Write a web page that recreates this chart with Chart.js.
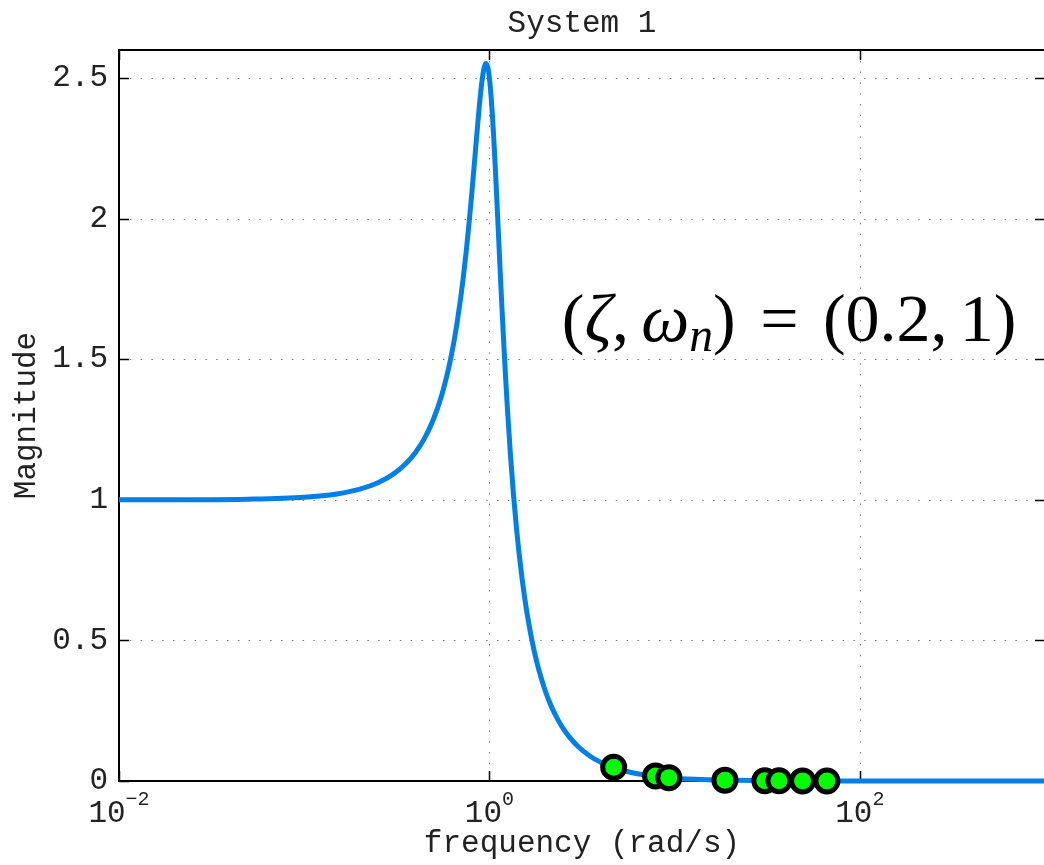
<!DOCTYPE html>
<html>
<head>
<meta charset="utf-8">
<title>System 1</title>
<script src="https://cdn.jsdelivr.net/npm/chart.js@4/dist/chart.umd.min.js"></script>
<style>
    html, body { margin: 0; padding: 0; background: #fff; overflow: hidden; }
    #wrap { width: 1044px; height: 865px; overflow: hidden; }
</style>
</head>
<body>
<div id="wrap"><canvas id="bodeChart" width="1048" height="865"></canvas></div>
<script>
// Frequency response samples (rad/s -> magnitude).
const frequency = [0.01, 0.02, 0.05, 0.1, 0.15, 0.2, 0.25, 0.3, 0.35, 0.4, 0.45, 0.5,
    0.55, 0.6, 0.62, 0.65, 0.67, 0.7, 0.72, 0.75, 0.78, 0.8, 0.82, 0.85, 0.86, 0.88,
    0.9, 0.92, 0.93, 0.95, 0.96, 0.97, 0.98, 0.99, 1.0, 1.01, 1.02, 1.03, 1.04, 1.06,
    1.08, 1.1, 1.12, 1.15, 1.17, 1.2, 1.22, 1.25, 1.3, 1.35, 1.4, 1.45, 1.5, 1.55,
    1.6, 1.7, 1.8, 1.9, 2.0, 2.1, 2.2, 2.35, 2.5, 2.7, 3, 3.5, 4, 4.5, 5, 6, 7, 8,
    10, 14, 20, 50, 100, 1000];
const magnitude = [1.0001, 1.0004, 1.0023, 1.0093, 1.0211, 1.0381, 1.0607, 1.0895, 1.1254, 1.1695, 1.2231, 1.2883,
    1.3673, 1.4630, 1.5068, 1.5789, 1.6318, 1.7188, 1.7821, 1.8851, 1.9972, 2.0761, 2.1572, 2.2786, 2.3178, 2.3918,
    2.4566, 2.5077, 2.5267, 2.5490, 2.5516, 2.5479, 2.5381, 2.5221, 2.5, 2.4722, 2.4390, 2.4011, 2.3589, 2.2642,
    2.1601, 2.0511, 1.9410, 1.7800, 1.6781, 1.5357, 1.4484, 1.3287, 1.1574, 1.0163, 0.8998, 0.8027, 0.7212, 0.6521,
    0.5931, 0.4979, 0.4250, 0.3679, 0.3221, 0.2847, 0.2538, 0.2165, 0.1871, 0.1567, 0.1236, 0.0882, 0.0663, 0.0517, 0.0415, 0.0285, 0.0208, 0.0159,
    0.0101, 0.0051, 0.0025, 0.0004, 0.0001, 0.0000];

// Green sample markers.
const markerFreq = [4.69, 7.89, 9.31, 18.7, 30.7, 36.6, 49.1, 66.4];
const markerMag = [0.049, 0.018, 0.012, 0.003, 0.001, 0.0008, 0.0004, 0.0002];

// Axis ticks.
const xTicks = [0.01, 1, 100];
const xTickExp = ['\u22122', '0', '2'];
const yTicks = [0, 0.5, 1, 1.5, 2, 2.5];

const mono = '"Liberation Mono", "Courier New", monospace';
const serif = '"Liberation Serif", "Times New Roman", serif';
const textColor = '#222';

// Grid, frame and inner tick marks, drawn under the data like MATLAB does.
const axesPlugin = {
    id: 'axesBox',
    beforeDatasetsDraw(chart) {
        const ctx = chart.ctx;
        const a = chart.chartArea;
        const xs = chart.scales.x, ys = chart.scales.y;
        ctx.save();
        // dotted grid
        ctx.strokeStyle = '#777';
        ctx.lineWidth = 1;
        ctx.setLineDash([1.5, 9.3]);
        yTicks.forEach(v => {
            if (v === 0) return;
            const y = Math.round(ys.getPixelForValue(v)) + 0.5;
            ctx.beginPath(); ctx.moveTo(a.left, y); ctx.lineTo(a.right, y); ctx.stroke();
        });
        xTicks.forEach(v => {
            if (v === xs.min) return;
            const x = Math.round(xs.getPixelForValue(v)) + 0.5;
            ctx.beginPath(); ctx.moveTo(x, a.top); ctx.lineTo(x, a.bottom); ctx.stroke();
        });
        ctx.setLineDash([]);
        // tick marks pointing inwards
        ctx.strokeStyle = '#000';
        ctx.lineWidth = 1.5;
        const tl = 10;
        yTicks.forEach(v => {
            const y = Math.round(ys.getPixelForValue(v)) + 0.5;
            ctx.beginPath();
            ctx.moveTo(a.left, y); ctx.lineTo(a.left + tl, y);
            ctx.moveTo(a.right, y); ctx.lineTo(a.right - tl, y);
            ctx.stroke();
        });
        xTicks.forEach(v => {
            const x = Math.round(xs.getPixelForValue(v)) + 0.5;
            ctx.beginPath();
            ctx.moveTo(x, a.bottom); ctx.lineTo(x, a.bottom - tl);
            ctx.moveTo(x, a.top); ctx.lineTo(x, a.top + tl);
            ctx.stroke();
        });
        // box
        ctx.lineWidth = 2;
        ctx.strokeRect(a.left, a.top, a.right - a.left, a.bottom - a.top);
        ctx.restore();
    },
    afterDraw(chart) {
        const ctx = chart.ctx;
        const a = chart.chartArea;
        const xs = chart.scales.x, ys = chart.scales.y;
        ctx.save();
        ctx.fillStyle = textColor;
        ctx.textBaseline = 'alphabetic';
        ctx.textAlign = 'left';
        // x tick labels as 10^n
        xTicks.forEach((v, i) => {
            const x = xs.getPixelForValue(v);
            ctx.font = '31px ' + mono;
            const wBase = ctx.measureText('10').width;
            ctx.font = '20px ' + mono;
            const wExp = ctx.measureText(xTickExp[i]).width;
            const x0 = x - (wBase + wExp) / 2;
            ctx.font = '31px ' + mono;
            ctx.fillText('10', x0, a.bottom + 41);
            ctx.font = '20px ' + mono;
            ctx.fillText(xTickExp[i], x0 + wBase, a.bottom + 24);
        });
        ctx.restore();

        // annotation in math style: (zeta, omega_n) = (0.2, 1)
        const size = 68;
        const thin = 0.18 * size, thick = 0.36 * size;
        const parts = [
            { t: '(' },
            { t: '\u03B6', it: true },
            { t: ',', gap: thin },
            { t: '\u03C9', it: true },
            { t: 'n', it: true, sub: true },
            { t: ')', gap: thick },
            { t: '=', gap: thick },
            { t: '(0.2,', gap: thin },
            { t: '1)' }
        ];
        let x = xs.getPixelForValue(2.46);
        const y = ys.getPixelForValue(1.565);
        ctx.save();
        ctx.fillStyle = '#000';
        ctx.textBaseline = 'alphabetic';
        ctx.textAlign = 'left';
        parts.forEach(p => {
            const fs = p.sub ? size * 0.7 : size;
            ctx.font = (p.it ? 'italic ' : '') + fs + 'px ' + serif;
            ctx.fillText(p.t, x, p.sub ? y + size * 0.14 : y);
            x += ctx.measureText(p.t).width + (p.gap || 0);
        });
        ctx.restore();
    }
};

const curvePoints = frequency.map((f, i) => ({ x: f, y: magnitude[i] }));
const markerPoints = markerFreq.map((f, i) => ({ x: f, y: markerMag[i] }));

const ctx = document.getElementById('bodeChart').getContext('2d');
new Chart(ctx, {
    type: 'scatter',
    data: {
        datasets: [{
            type: 'line',
            data: curvePoints,
            borderColor: '#0080e6',
            borderWidth: 5,
            pointRadius: 0,
            cubicInterpolationMode: 'monotone',
            fill: false,
            clip: false,
            order: 2
        }, {
            type: 'scatter',
            data: markerPoints,
            pointRadius: 11,
            pointBorderWidth: 5,
            pointBackgroundColor: '#00ff00',
            pointBorderColor: '#000',
            clip: false,
            order: 1
        }]
    },
    options: {
        responsive: false,
        animation: false,
        layout: { autoPadding: false, padding: { left: 0, right: 3, top: 0, bottom: 0 } },
        plugins: {
            legend: { display: false },
            tooltip: { enabled: false },
            title: {
                display: true,
                fullSize: false,
                text: 'System 1',
                color: textColor,
                font: { family: mono, size: 31, weight: 'normal' },
                padding: { top: 5, bottom: 7.8 }
            }
        },
        scales: {
            x: {
                type: 'logarithmic',
                min: 0.01,
                max: 1000,
                grid: { display: false, drawTicks: false },
                border: { display: false },
                ticks: { display: false },
                title: {
                    display: true,
                    text: 'frequency (rad/s)',
                    color: textColor,
                    font: { family: mono, size: 31 },
                    padding: { top: 0, bottom: 3 }
                },
                afterFit: s => { s.height = 84; }
            },
            y: {
                min: 0,
                max: 2.6,
                afterBuildTicks: s => { s.ticks = yTicks.map(v => ({ value: v })); },
                grid: { display: false, drawTicks: false },
                border: { display: false },
                ticks: {
                    color: textColor,
                    font: { family: mono, size: 31 },
                    padding: 11,
                    callback: v => String(v)
                },
                title: {
                    display: true,
                    text: 'Magnitude',
                    color: textColor,
                    font: { family: mono, size: 31 },
                    padding: { top: 8, bottom: 0 }
                },
                afterFit: s => { s.width = 119; }
            }
        }
    },
    plugins: [axesPlugin]
});
</script>
</body>
</html>
